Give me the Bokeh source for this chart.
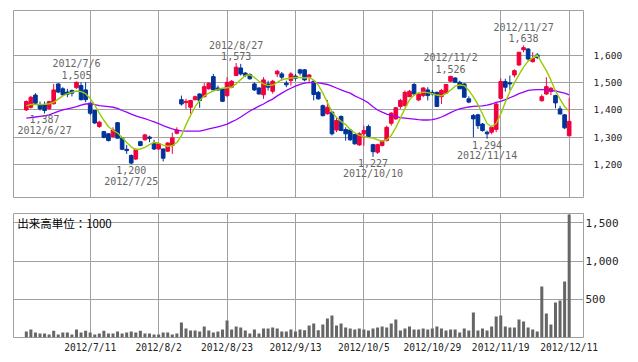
from bokeh.plotting import figure
from bokeh.layouts import column
from bokeh.models import FixedTicker, NumeralTickFormatter, Range1d, ColumnDataSource
from bokeh.embed import file_html
from bokeh.resources import INLINE
from bokeh.core.properties import value

dates = [
    "2012/6/21", "2012/6/22", "2012/6/25", "2012/6/26", "2012/6/27", "2012/6/28", "2012/6/29",
    "2012/7/2", "2012/7/3", "2012/7/4", "2012/7/5", "2012/7/6", "2012/7/9", "2012/7/10", "2012/7/11",
    "2012/7/12", "2012/7/13", "2012/7/17", "2012/7/18", "2012/7/19", "2012/7/20", "2012/7/23",
    "2012/7/24", "2012/7/25", "2012/7/26", "2012/7/27", "2012/7/30", "2012/7/31",
    "2012/8/1", "2012/8/2", "2012/8/3", "2012/8/6", "2012/8/7", "2012/8/8", "2012/8/9", "2012/8/10",
    "2012/8/13", "2012/8/14", "2012/8/15", "2012/8/16", "2012/8/17", "2012/8/20", "2012/8/21",
    "2012/8/22", "2012/8/23", "2012/8/24", "2012/8/27", "2012/8/28", "2012/8/29", "2012/8/30", "2012/8/31",
    "2012/9/3", "2012/9/4", "2012/9/5", "2012/9/6", "2012/9/7", "2012/9/10", "2012/9/11", "2012/9/12",
    "2012/9/13", "2012/9/14", "2012/9/18", "2012/9/19", "2012/9/20", "2012/9/21", "2012/9/24",
    "2012/9/25", "2012/9/26", "2012/9/27", "2012/9/28",
    "2012/10/1", "2012/10/2", "2012/10/3", "2012/10/4", "2012/10/5", "2012/10/9", "2012/10/10",
    "2012/10/11", "2012/10/12", "2012/10/15", "2012/10/16", "2012/10/17", "2012/10/18", "2012/10/19",
    "2012/10/22", "2012/10/23", "2012/10/24", "2012/10/25", "2012/10/26", "2012/10/29", "2012/10/30",
    "2012/10/31",
    "2012/11/1", "2012/11/2", "2012/11/5", "2012/11/6", "2012/11/7", "2012/11/8", "2012/11/9",
    "2012/11/12", "2012/11/13", "2012/11/14", "2012/11/15", "2012/11/16", "2012/11/19", "2012/11/20",
    "2012/11/21", "2012/11/22", "2012/11/26", "2012/11/27", "2012/11/28", "2012/11/29", "2012/11/30",
    "2012/12/3", "2012/12/4", "2012/12/5", "2012/12/6", "2012/12/7", "2012/12/10", "2012/12/11",
]

opens = [
    1400, 1410, 1455, 1419, 1419, 1405, 1423, 1496, 1478, 1466,
    1472, 1482, 1490, 1474, 1425, 1398, 1339, 1320, 1312, 1302,
    1353, 1296, 1255, 1232, 1219, 1283, 1290, 1300, 1277, 1256,
    1256, 1248, 1269, 1314, 1438, 1427, 1410, 1438, 1459, 1449,
    1478, 1523, 1481, 1478, 1453, 1484, 1527, 1555, 1536, 1531,
    1496, 1481, 1456, 1496, 1469, 1533, 1533, 1499, 1509, 1525,
    1548, 1548, 1521, 1506, 1465, 1416, 1386, 1392, 1326, 1376,
    1328, 1326, 1309, 1271, 1312, 1339, 1272, 1244, 1269, 1287,
    1351, 1367, 1413, 1416, 1449, 1494, 1437, 1453, 1474, 1465,
    1465, 1449, 1462, 1506, 1518, 1502, 1496, 1441, 1380, 1382,
    1348, 1318, 1318, 1328, 1443, 1505, 1500, 1529, 1566, 1622,
    1625, 1578, 1603, 1434, 1459, 1468, 1453, 1404, 1382, 1305,
]
highs = [
    1435, 1452, 1462, 1431, 1431, 1434, 1496, 1498, 1484, 1478,
    1475, 1505, 1502, 1502, 1428, 1400, 1360, 1323, 1314, 1336,
    1355, 1300, 1271, 1236, 1258, 1286, 1312, 1305, 1290, 1280,
    1258, 1282, 1316, 1336, 1453, 1441, 1437, 1453, 1462, 1499,
    1502, 1533, 1490, 1481, 1521, 1510, 1573, 1570, 1540, 1535,
    1502, 1484, 1521, 1508, 1511, 1548, 1540, 1508, 1540, 1533,
    1552, 1551, 1533, 1508, 1470, 1420, 1437, 1395, 1371, 1380,
    1336, 1330, 1312, 1318, 1342, 1346, 1275, 1275, 1288, 1342,
    1392, 1410, 1441, 1472, 1474, 1499, 1465, 1484, 1484, 1474,
    1468, 1478, 1496, 1526, 1521, 1508, 1499, 1450, 1385, 1386,
    1352, 1324, 1342, 1430, 1517, 1515, 1527, 1550, 1613, 1638,
    1628, 1613, 1610, 1457, 1521, 1485, 1456, 1415, 1385, 1445,
]
lows = [
    1396, 1405, 1422, 1398, 1387, 1400, 1420, 1462, 1452, 1447,
    1450, 1478, 1435, 1429, 1382, 1348, 1334, 1295, 1284, 1298,
    1296, 1252, 1238, 1200, 1215, 1266, 1287, 1281, 1252, 1253,
    1210, 1245, 1238, 1310, 1416, 1404, 1386, 1435, 1408, 1447,
    1475, 1472, 1470, 1429, 1447, 1480, 1525, 1527, 1521, 1512,
    1470, 1457, 1441, 1472, 1460, 1521, 1508, 1484, 1490, 1508,
    1527, 1506, 1502, 1435, 1438, 1376, 1383, 1306, 1318, 1322,
    1287, 1286, 1272, 1268, 1268, 1300, 1227, 1238, 1265, 1284,
    1342, 1364, 1404, 1413, 1447, 1453, 1432, 1447, 1435, 1453,
    1413, 1422, 1459, 1504, 1499, 1478, 1447, 1425, 1300, 1330,
    1320, 1294, 1310, 1318, 1441, 1468, 1474, 1520, 1563, 1613,
    1582, 1575, 1588, 1431, 1455, 1455, 1406, 1385, 1330, 1302,
]
closes = [
    1431, 1447, 1425, 1404, 1398, 1431, 1474, 1466, 1456, 1458,
    1462, 1502, 1438, 1438, 1388, 1352, 1355, 1299, 1287, 1326,
    1296, 1255, 1250, 1204, 1254, 1269, 1308, 1295, 1256, 1275,
    1222, 1278, 1297, 1326, 1422, 1432, 1435, 1449, 1435, 1486,
    1499, 1474, 1474, 1432, 1502, 1506, 1558, 1533, 1527, 1515,
    1474, 1459, 1511, 1484, 1506, 1543, 1521, 1493, 1533, 1517,
    1536, 1511, 1529, 1457, 1441, 1379, 1410, 1312, 1361, 1324,
    1312, 1290, 1275, 1312, 1324, 1302, 1246, 1272, 1285, 1336,
    1388, 1408, 1435, 1465, 1469, 1459, 1459, 1481, 1453, 1459,
    1413, 1472, 1494, 1524, 1502, 1478, 1447, 1429, 1367, 1342,
    1324, 1312, 1336, 1422, 1505, 1484, 1496, 1545, 1613, 1630,
    1588, 1590, 1594, 1449, 1486, 1480, 1426, 1385, 1334, 1358,
]
ma_short = [
    1415, 1420, 1420, 1420, 1421, 1423, 1428, 1440, 1452, 1460,
    1465, 1470, 1468, 1460, 1442, 1418, 1388, 1362, 1338, 1325,
    1315, 1298, 1280, 1264, 1254, 1256, 1262, 1272, 1280, 1278,
    1270, 1266, 1268, 1280, 1305, 1345, 1380, 1412, 1435, 1452,
    1462, 1470, 1476, 1480, 1482, 1484, 1496, 1512, 1527, 1530,
    1520, 1506, 1496, 1490, 1492, 1502, 1512, 1515, 1518, 1520,
    1520, 1518, 1520, 1510, 1492, 1462, 1428, 1392, 1372, 1358,
    1346, 1328, 1316, 1306, 1302, 1298, 1296, 1290, 1285, 1290,
    1306, 1335, 1370, 1405, 1438, 1455, 1463, 1466, 1464, 1460,
    1455, 1452, 1460, 1473, 1488, 1492, 1490, 1472, 1448, 1420,
    1385, 1350, 1338, 1350, 1385, 1428, 1468, 1500, 1530, 1558,
    1580, 1592, 1602, 1574, 1545, 1510, 1470, 1440, 1412, 1396,
]
ma_long = [
    1370, 1372, 1374, 1376, 1378, 1382, 1388, 1395, 1400, 1404,
    1408, 1412, 1418, 1422, 1423, 1420, 1416, 1414, 1412, 1410,
    1406, 1398, 1392, 1385, 1378, 1373, 1368, 1362, 1356, 1350,
    1342, 1336, 1330, 1326, 1323, 1322, 1322, 1322, 1322, 1326,
    1330, 1334, 1338, 1342, 1348, 1356, 1364, 1374, 1385, 1396,
    1405, 1414, 1422, 1432, 1440, 1452, 1462, 1472, 1480, 1488,
    1494, 1499, 1501, 1501, 1500, 1497, 1494, 1488, 1481, 1474,
    1468, 1462, 1452, 1444, 1436, 1426, 1412, 1400, 1392, 1385,
    1380, 1376, 1372, 1370, 1368, 1366, 1364, 1363, 1363, 1364,
    1368, 1374, 1382, 1390, 1398, 1404, 1408, 1411, 1413, 1414,
    1415, 1418, 1422, 1428, 1432, 1438, 1445, 1452, 1460, 1466,
    1472, 1474, 1475, 1475, 1474, 1472, 1470, 1466, 1462, 1456,
]
volume = [
    79, 105, 65, 52, 52, 39, 87, 39, 65, 65,
    39, 105, 65, 87, 65, 39, 52, 87, 52, 52,
    79, 52, 65, 79, 65, 87, 52, 52, 39, 39,
    65, 65, 39, 52, 196, 118, 92, 92, 79, 144,
    92, 65, 79, 105, 223, 105, 144, 131, 92, 52,
    105, 52, 118, 118, 131, 118, 79, 79, 105, 79,
    105, 96, 157, 183, 96, 170, 249, 288, 157, 183,
    131, 118, 105, 118, 105, 92, 118, 131, 144, 131,
    183, 236, 92, 118, 144, 105, 105, 118, 105, 118,
    144, 118, 92, 105, 105, 65, 118, 92, 327, 92,
    118, 92, 144, 275, 288, 144, 131, 131, 236, 209,
    131, 105, 79, 668, 314, 170, 458, 484, 733, 1610,
]
tick_dates = ["2012/7/11", "2012/8/2", "2012/8/23", "2012/9/13",
              "2012/10/5", "2012/10/29", "2012/11/19", "2012/12/11"]
price_ticks = [1200, 1300, 1400, 1500, 1600]
volume_ticks = [500, 1000, 1500]
peak_dates = ["2012/7/6", "2012/8/27", "2012/11/2", "2012/11/27"]
trough_dates = ["2012/6/27", "2012/7/25", "2012/10/10", "2012/11/14"]
volume_unit_label = "出来高単位：1000"

UP = "#f0003c"
DOWN = "#003399"
GRID = "#a0a0a0"
MONO = "DejaVu Sans Mono"

idx = list(range(len(dates)))
colors = [UP if c >= o else DOWN for o, c in zip(opens, closes)]
body_top = [max(o, c) for o, c in zip(opens, closes)]
body_bot = [min(o, c) for o, c in zip(opens, closes)]
src = ColumnDataSource(dict(x=idx, o=opens, h=highs, l=lows, c=closes, top=body_top,
                            bot=body_bot, color=colors, vol=volume,
                            ma5=ma_short, ma25=ma_long))
tick_idx = [dates.index(d) for d in tick_dates]

x_range = Range1d(-2.81, 122.14)

p1 = figure(width=638, height=200, x_range=x_range, y_range=Range1d(1077, 1767),
            output_backend="svg", toolbar_location=None, y_axis_location="right",
            min_border_left=13, min_border_right=55, min_border_top=10, min_border_bottom=3)
p1.xaxis.visible = False
p1.outline_line_color = GRID
p1.xgrid.ticker = FixedTicker(ticks=tick_idx)
p1.ygrid.ticker = FixedTicker(ticks=price_ticks)
p1.grid.grid_line_color = GRID
p1.yaxis.ticker = FixedTicker(ticks=price_ticks)
p1.yaxis.formatter = NumeralTickFormatter(format="0,0")
p1.yaxis.axis_line_color = None
p1.yaxis.major_tick_line_color = None
p1.yaxis.minor_tick_line_color = None
p1.yaxis.major_tick_out = 0
p1.yaxis.major_tick_in = 0
p1.yaxis.major_label_standoff = 10
p1.yaxis.major_label_text_font = MONO
p1.yaxis.major_label_text_font_size = "9.5px"
p1.yaxis.major_label_text_color = "#222222"

p1.segment(x0="x", y0="h", x1="x", y1="l", color="color", line_width=1, source=src)
p1.vbar(x="x", top="top", bottom="bot", width=0.8, fill_color="color", line_color="color",
        line_width=1, source=src)
p1.line(x="x", y="ma25", color="#9900ff", line_width=1.3, source=src)
p1.line(x="x", y="ma5", color="#99cc00", line_width=1.4, source=src)

pk_i = [dates.index(d) for d in peak_dates]
tr_i = [dates.index(d) for d in trough_dates]
pk_v = [highs[i] for i in pk_i]
tr_v = [lows[i] for i in tr_i]
ann_style = dict(text_font=value(MONO), text_font_size="10px", text_color="#666666",
                 text_align="center", text_baseline="middle")
p1.text(x=pk_i, y=pk_v, text=[f"{v:,}" for v in pk_v], y_offset=-7, **ann_style)
p1.text(x=pk_i, y=pk_v, text=peak_dates, y_offset=-18, **ann_style)
p1.text(x=tr_i, y=tr_v, text=[f"{v:,}" for v in tr_v], y_offset=6, **ann_style)
p1.text(x=tr_i, y=tr_v, text=trough_dates, y_offset=17, **ann_style)

p2 = figure(width=638, height=162, x_range=x_range, y_range=Range1d(0, 1623),
            output_backend="svg", toolbar_location=None, y_axis_location="right",
            min_border_left=13, min_border_right=55, min_border_top=13, min_border_bottom=25)
p2.outline_line_color = GRID
p2.grid.grid_line_color = GRID
p2.xgrid.ticker = FixedTicker(ticks=tick_idx)
p2.ygrid.ticker = FixedTicker(ticks=volume_ticks)
p2.xaxis.ticker = FixedTicker(ticks=tick_idx)
p2.xaxis.major_label_overrides = {i: dates[i] for i in tick_idx}
p2.yaxis.ticker = FixedTicker(ticks=volume_ticks)
p2.yaxis.formatter = NumeralTickFormatter(format="0,0")
for ax in (p2.xaxis, p2.yaxis):
    ax.axis_line_color = None
    ax.major_tick_line_color = None
    ax.minor_tick_line_color = None
    ax.major_tick_out = 0
    ax.major_tick_in = 0
    ax.major_label_text_font = MONO
    ax.major_label_text_color = "#222222"
p2.xaxis.major_label_text_font_size = "9.6px"
p2.yaxis.major_label_text_font_size = "11px"
p2.yaxis.major_label_standoff = 2
p2.xaxis.major_label_standoff = 4

p2.vbar(x="x", top="vol", width=0.66, fill_color="#666666", line_color=None, source=src)
p2.text(x=[-2.0], y=[1505], text=[volume_unit_label], text_font=value("Noto Sans CJK JP"),
        text_font_size="11.5px", text_color="#000000", text_align="left", text_baseline="middle")

layout = column(p1, p2)
open("out.html", "w").write(file_html(layout, INLINE))
